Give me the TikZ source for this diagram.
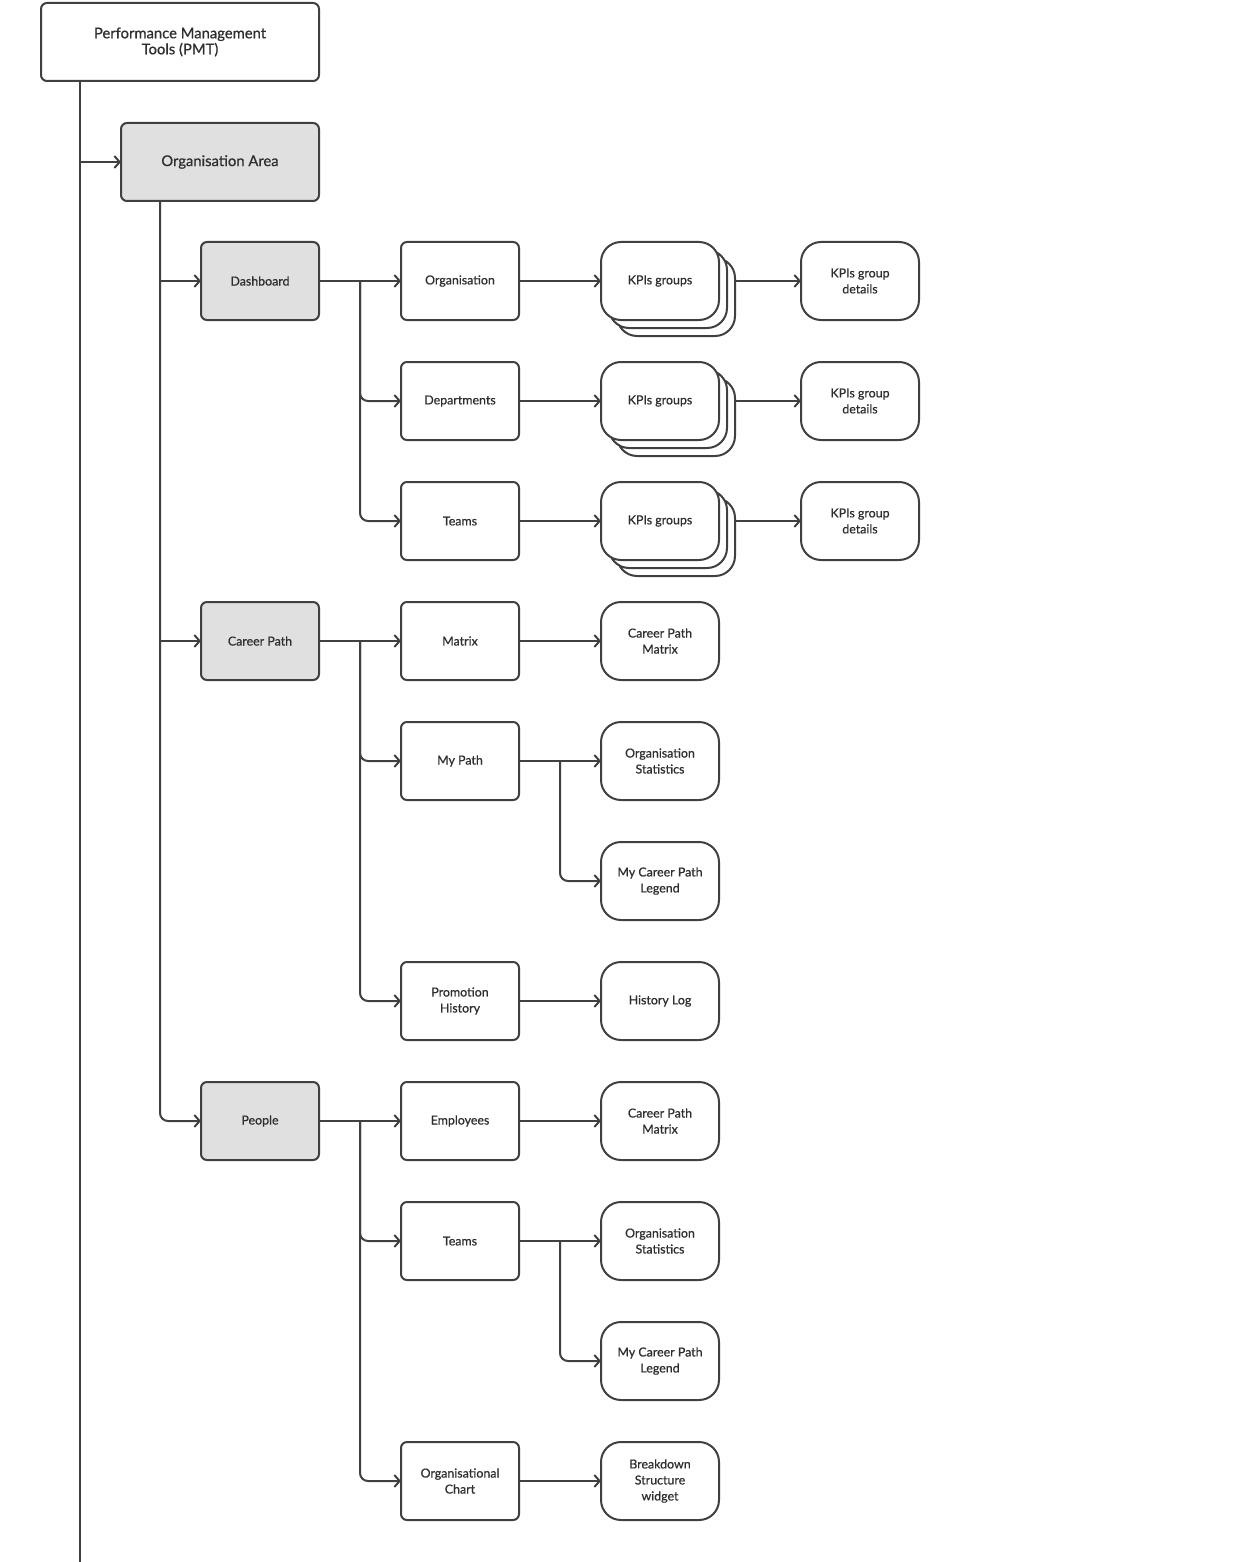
\documentclass[tikz,border=0pt]{standalone}
\usepackage{fontspec}
\setmainfont{Lato}[RawFeature={embolden=0.6}]
\usetikzlibrary{arrows.meta,calc}
\definecolor{lncol}{HTML}{404040}
\definecolor{gfill}{HTML}{E0E0E0}
\definecolor{txcol}{HTML}{2E2E2E}
\begin{document}
\begin{tikzpicture}[x=0.75pt,y=-0.75pt,
 base/.style={draw=lncol,line width=1.5pt,text=txcol,align=center,inner sep=0pt,outer sep=0pt,minimum width=88.5pt,minimum height=58.5pt,font=\fontsize{9.3}{12}\selectfont},
 sqbox/.style={base,rounded corners=4.5pt,fill=white},
 gbox/.style={sqbox,fill=gfill},
 rdbox/.style={base,rounded corners=15pt,fill=white},
 bigtext/.style={font=\fontsize{11.1}{12}\selectfont},
 arr/.style={draw=lncol,line width=1.5pt,-{Straight Barb[length=4pt,width=9pt,line width=1.5pt]},rounded corners=6pt},
 wire/.style={draw=lncol,line width=1.5pt}]
\useasboundingbox (0,0) rectangle (1240,1562);

% top
\node[sqbox,bigtext,minimum width=208.5pt] (pmt) at (180,42) {Performance Management\\Tools (PMT)};
\node[gbox,bigtext,minimum width=148.5pt] (orga) at (220,162) {Organisation Area};
\coordinate (bot) at (80,1562);
\coordinate (oa) at (160,201);

% level 1
\node[gbox] (dash) at (260,281) {Dashboard};
\node[gbox] (cp) at (260,641) {Career Path};
\node[gbox] (ppl) at (260,1121) {People};

% level 2
\node[sqbox] (org) at (460,281) {Organisation};
\node[sqbox] (dep) at (460,401) {Departments};
\node[sqbox] (tms) at (460,521) {Teams};
\node[sqbox] (mat) at (460,641) {Matrix};
\node[sqbox] (myp) at (460,761) {My Path};
\node[sqbox] (prh) at (460,1001) {Promotion\\History};
\node[sqbox] (emp) at (460,1121) {Employees};
\node[sqbox] (tms2) at (460,1241) {Teams};
\node[sqbox] (orc) at (460,1481) {Organisational\\Chart};

% level 3 stacked KPIs groups
\foreach \n/\yy in {a/281,b/401,c/521}{
  \node[rdbox] (k\n3) at (676,\yy+16) {};
  \node[rdbox] (k\n2) at (668,\yy+8) {};
  \node[rdbox] (k\n1) at (660,\yy) {KPIs groups};
}
\node[rdbox] (cpm) at (660,641) {Career Path\\Matrix};
\node[rdbox] (ost) at (660,761) {Organisation\\Statistics};
\node[rdbox] (mcl) at (660,881) {My Career Path\\Legend};
\node[rdbox] (hlg) at (660,1001) {History Log};
\node[rdbox] (cpm2) at (660,1121) {Career Path\\Matrix};
\node[rdbox] (ost2) at (660,1241) {Organisation\\Statistics};
\node[rdbox] (mcl2) at (660,1361) {My Career Path\\Legend};
\node[rdbox] (bsw) at (660,1481) {Breakdown\\Structure\\widget};

% level 4
\node[rdbox] (da) at (860,281) {KPIs group\\details};
\node[rdbox] (db) at (860,401) {KPIs group\\details};
\node[rdbox] (dc) at (860,521) {KPIs group\\details};

% connectors: trunk
\draw[wire] (pmt.south -| bot) -- (bot);
\draw[arr] (orga.west -| bot) -- (orga.west);
\draw[arr] (oa) |- (ppl.west);
\draw[arr] (oa |- dash.west) -- (dash.west);
\draw[arr] (oa |- cp.west) -- (cp.west);

% dashboard branch
\coordinate (j1) at ($(dash.east)!.5!(org.west)$);
\draw[arr] (dash.east) -- (org.west);
\draw[arr] (j1) |- (dep.west);
\draw[arr] (j1) |- (tms.west);
\draw[arr] (org.east) -- (ka1.west);
\draw[arr] (dep.east) -- (kb1.west);
\draw[arr] (tms.east) -- (kc1.west);
\draw[arr] (ka3.east |- ka1.east) -- (da.west);
\draw[arr] (kb3.east |- kb1.east) -- (db.west);
\draw[arr] (kc3.east |- kc1.east) -- (dc.west);

% career path branch
\coordinate (j2) at ($(cp.east)!.5!(mat.west)$);
\draw[arr] (cp.east) -- (mat.west);
\draw[arr] (j2) |- (myp.west);
\draw[arr] (j2) |- (prh.west);
\draw[arr] (mat.east) -- (cpm.west);
\coordinate (j3) at ($(myp.east)!.5!(ost.west)$);
\draw[arr] (myp.east) -- (ost.west);
\draw[arr] (j3) |- (mcl.west);
\draw[arr] (prh.east) -- (hlg.west);

% people branch
\coordinate (j4) at ($(ppl.east)!.5!(emp.west)$);
\draw[arr] (ppl.east) -- (emp.west);
\draw[arr] (j4) |- (tms2.west);
\draw[arr] (j4) |- (orc.west);
\draw[arr] (emp.east) -- (cpm2.west);
\coordinate (j5) at ($(tms2.east)!.5!(ost2.west)$);
\draw[arr] (tms2.east) -- (ost2.west);
\draw[arr] (j5) |- (mcl2.west);
\draw[arr] (orc.east) -- (bsw.west);
\end{tikzpicture}
\end{document}
